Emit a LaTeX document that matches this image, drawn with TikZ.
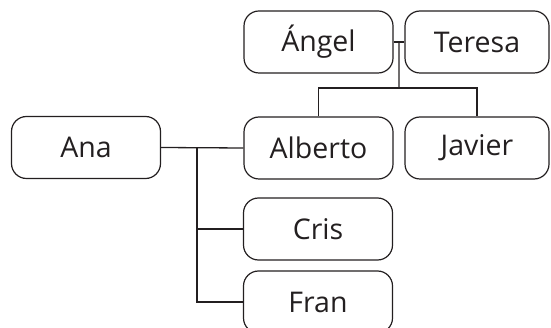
\documentclass[tikz,border=0pt]{standalone}
\usepackage{fontspec}
\setmainfont{Open Sans}
\usetikzlibrary{calc}
\definecolor{ink}{HTML}{231F20}
\begin{document}
\begin{tikzpicture}[x=1pt,y=-1pt,
  person/.style={draw=ink,line width=1.2pt,rounded corners=15pt,minimum width=149pt,minimum height=62pt,inner sep=0pt,text=ink,font=\fontsize{28.5}{34}\selectfont},
  link/.style={draw=ink,line width=1.3pt}]
\useasboundingbox (0,0) rectangle (551,328);
\node[person] (ana) at (86,147.5) {Ana};
\node[person] (angel) at (318.5,42) {Ángel};
\node[person,minimum width=144pt] (teresa) at (477,42) {Teresa};
\node[person] (alberto) at (318.5,148) {Alberto};
\node[person,minimum width=144pt] (javier) at (477,148) {Javier};
\node[person] (cris) at (318,229) {Cris};
\node[person] (fran) at (318,302) {Fran};
\coordinate (couple) at ($(angel.east)!0.5!(teresa.west)$);
\coordinate (kids) at (399,88);
\coordinate (trunk) at (197,148);
\draw[link] (angel.east) -- (teresa.west);
\draw[link] (couple) -- (kids);
\draw[link] (alberto.north) |- (kids) -| (javier.north);
\draw[link] (ana.east) -- (alberto.west);
\draw[link] (trunk) |- (fran.west);
\draw[link] (trunk |- cris.west) -- (cris.west);
\end{tikzpicture}
\end{document}
